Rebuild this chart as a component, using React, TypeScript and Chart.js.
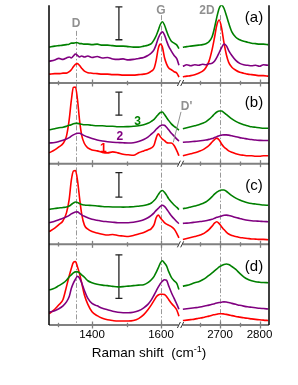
import React, { useEffect, useRef } from 'react';
import { Chart, registerables } from 'chart.js';

Chart.register(...registerables);

// ---------- data (Raman shift in cm^-1, intensity in arbitrary units per panel) ----------
const X_LEFT = [1276, 1292, 1304, 1316, 1326, 1334, 1340, 1346, 1352, 1358, 1364, 1370, 1378, 1388, 1400, 1415, 1430, 1445, 1460, 1475, 1490, 1505, 1520, 1535, 1550, 1562, 1572, 1580, 1586, 1592, 1598, 1604, 1610, 1616, 1622, 1630, 1638, 1646, 1652];
const X_RIGHT = [2606, 2616, 2626, 2636, 2646, 2656, 2664, 2672, 2680, 2686, 2692, 2698, 2704, 2710, 2716, 2722, 2730, 2740, 2750, 2760, 2770, 2780, 2790, 2800, 2810, 2822];

// panel (a)
const A_GREEN_L = [36.5, 37.5, 38, 38.5, 39, 39.5, 40.5, 40.5, 41, 41, 40, 40, 39.5, 39.5, 39, 39.5, 38.5, 38.5, 38, 37.5, 37.5, 37, 36.5, 36.5, 37.5, 38.5, 40, 44, 48, 53.5, 59.5, 62.3, 59, 53, 47.5, 42.5, 40.5, 38.5, 35];
const A_PURPLE_L = [22, 23.5, 25, 24, 25.5, 26.5, 25.5, 27.5, 29.5, 28, 26.5, 27.5, 26.5, 27.5, 26, 27, 25.5, 26, 24.5, 24, 24.5, 23.5, 24, 25, 26, 28, 30.5, 34, 39, 45.5, 50, 52, 49, 43, 37.5, 32.5, 28, 24.5, 18];
const A_RED_L = [9, 9.5, 9.5, 10, 10, 11.5, 13.5, 16.5, 19, 19.7, 17.8, 15, 12, 10.5, 10, 9.5, 9, 9, 8.5, 8.5, 8, 8, 8, 8.5, 9, 10, 12, 15, 23, 35, 39.5, 36.5, 26, 19.5, 15.5, 13.5, 11.5, 10, 6];
const A_GREEN_R = [36.3, 37, 37.5, 38, 38.5, 39, 40, 42, 47, 56, 67, 76, 79.5, 76, 69, 61, 52, 46.5, 44, 42.5, 41.5, 40.5, 40, 39.5, 39.5, 39];
const A_PURPLE_R = [17, 18.5, 17.5, 18.5, 18, 19, 18.5, 19.5, 20, 22, 26, 31, 36, 39.5, 38, 33, 28, 23, 20, 18.5, 18, 17.5, 18, 17, 18.5, 18];
const A_RED_R = [6.3, 7, 7.5, 8.5, 10, 12, 15.5, 22, 34, 46, 59, 64, 56, 41, 29, 21, 16, 13, 11, 10, 9, 8.5, 8, 7.5, 7.5, 7];

// panel (b)
const B_GREEN_L = [34.5, 35.5, 36.5, 37, 38, 39, 39.5, 40.5, 41, 41, 40.5, 40, 39.5, 39.5, 39, 38.5, 38.5, 38, 38, 37.5, 37.5, 37.7, 38, 38.5, 39.5, 41, 43, 45, 47.5, 50, 52, 52.5, 50, 47, 44, 40.5, 38, 36, 34];
const B_PURPLE_L = [21, 21.5, 22.5, 23.7, 25, 26.5, 28, 29.3, 30.3, 31, 31, 30, 28.5, 27, 25.5, 24, 23, 22.3, 21.8, 21.5, 21.2, 21, 21.3, 22.5, 24.5, 27, 30, 32.5, 35, 37, 38.5, 39.3, 39, 37, 34.5, 31, 28, 25, 23];
const B_RED_L = [11, 14, 17, 20.5, 28, 45, 64, 77.5, 78, 65, 44, 29, 20.5, 16, 14, 13, 11.5, 11, 12, 11, 9.5, 9, 8.5, 11, 13, 14.5, 16, 19, 26, 30.3, 27.5, 25, 23.5, 21.5, 21, 21, 18.5, 13, 8];
const B_GREEN_R = [35.5, 36.5, 37.5, 38.5, 39.5, 41, 42.5, 45, 48, 50.5, 52.5, 53.5, 53.5, 52, 50, 48, 45.5, 43, 41, 39.5, 38.5, 37.5, 37, 36.5, 36, 36];
const B_PURPLE_R = [21.7, 22, 22.3, 22.7, 23, 23.5, 24, 24.7, 25.5, 26.5, 27.5, 28.5, 29, 29.3, 29.3, 29, 28.3, 27.3, 26.5, 25.8, 25, 24.5, 24, 23.7, 23.5, 23.5];
const B_RED_R = [8, 9, 10, 11, 12.5, 14, 16, 18.5, 22, 24.5, 26, 24, 20, 17, 15, 13, 11.5, 10, 9, 8.5, 8, 8, 7.5, 7.5, 8, 8];

// panel (c)
const C_GREEN_L = [35.5, 36.5, 37, 37.5, 38, 39, 40.5, 42, 43, 42.5, 41.5, 40.5, 40, 39.7, 39.5, 39, 38.5, 38.2, 38, 38, 37.8, 38, 38.2, 38.8, 39.5, 40.5, 42, 44.5, 47, 50.5, 53.5, 54.7, 53, 50, 46.5, 43, 40, 37.5, 35.3];
const C_PURPLE_L = [22, 23.5, 25, 26.5, 28, 29.5, 31, 32, 32.8, 33, 31.5, 30, 28.5, 27, 25.5, 24.5, 23.5, 23, 22.5, 22, 22, 22, 22.5, 23.5, 25, 27, 29.5, 32, 34.5, 36.5, 38.5, 39.7, 38.5, 36, 33, 29, 26, 23, 21];
const C_RED_L = [13, 16.5, 20, 24, 32, 46, 65, 74.5, 75, 65, 47, 31, 19.5, 15.5, 13, 11.5, 10.3, 9.5, 10, 9, 8.5, 8, 9, 10.5, 12, 14, 16, 20, 27, 29.7, 27, 24.5, 22, 20.5, 19.5, 18, 15.5, 11, 6.5];
const C_GREEN_R = [36.3, 37, 38, 39, 40, 41.5, 43, 45.5, 48.5, 51, 53, 54.5, 55.3, 55.3, 54, 52, 49.5, 47, 45, 43.5, 42.3, 41.5, 41, 40.5, 40, 39.7];
const C_PURPLE_R = [21.3, 21.6, 22, 22.5, 23, 23.5, 24, 24.7, 25.5, 26.5, 27.5, 28, 28.8, 29.5, 29.7, 29.3, 28.5, 27.3, 26.3, 25.3, 24.5, 24, 23.7, 23.5, 23.2, 23];
const C_RED_R = [5, 6, 7, 8, 9, 10.5, 12.5, 15, 18.5, 21.5, 23, 21, 18, 15, 12.5, 10.5, 9, 8, 7, 6.5, 6, 5.5, 5.3, 5, 5, 4.7];

// panel (d)
const D_GREEN_L = [35.5, 37.5, 40, 42.5, 45.5, 49, 51, 53, 54, 54, 53, 51, 48.5, 45, 43, 41.5, 40.5, 40, 39.3, 38.8, 39, 39.5, 40, 40.5, 41, 43, 46, 49.5, 53.5, 58, 63, 65.3, 63, 60, 54.5, 48.5, 45, 42, 36];
const D_PURPLE_L = [13, 14.5, 16.5, 19.5, 23.5, 29, 37, 42.5, 46.5, 49.5, 47.5, 43, 35, 27, 22, 19.5, 17, 15.5, 14, 13, 12.5, 12.5, 13, 14.5, 17.5, 21, 25.5, 30.5, 34.5, 38.5, 42, 44.5, 46, 45.5, 40, 33, 27, 21, 16];
const D_RED_L = [11.5, 16, 20.5, 26, 39, 50, 57.5, 63.5, 64.5, 59, 52, 43, 30.5, 21, 13.5, 9.5, 6.8, 5.3, 4.5, 4, 4, 4, 4.5, 6.5, 10.5, 15.5, 20.5, 25, 28.5, 30.5, 31.3, 31.3, 31, 29, 26, 22, 19, 15, 9];
const D_GREEN_R = [39.5, 40.3, 41.5, 43, 44, 46, 48, 50.5, 53, 55, 57, 59, 60.5, 61.5, 62, 61.5, 59.5, 56.5, 52.5, 49, 46.5, 45, 44, 43.5, 43.2, 43];
const D_PURPLE_R = [16, 16.5, 17, 17.5, 18, 18.8, 19.5, 20.2, 21, 21.7, 22.3, 22.8, 23.2, 23.5, 23.3, 22.8, 22, 21, 20, 19.2, 18.5, 18, 17.5, 17, 16.7, 16.3];
const D_RED_R = [4.5, 5, 5.5, 6, 6.8, 7.5, 8.3, 9, 10, 10.5, 11, 11.5, 11.5, 11.2, 10.8, 10.3, 9.5, 8.7, 8, 7.3, 6.8, 6.2, 5.7, 5.3, 5, 4.5];

// intensity scale bars (low, high) per panel
const SCALE_BAR_CM = 1478;
const SCALE_BARS = [[44, 77.3], [49.3, 72.7], [48, 73], [27, 71.3]];

// axis ticks
const TICKS_CM = [1300, 1400, 1500, 1600, 2650, 2700, 2750, 2800];
const TICK_LABELS = ['', '1400', '', '1600', '', '2700', '', '2800'];
const TICK_MAJOR = [false, true, false, true, false, true, false, true];

// band positions (dash-dot lines)
const BANDS = [
  { name: 'D', cm: 1354 },
  { name: 'G', cm: 1600 },
  { name: '2D', cm: 2701 },
];

const PANEL_LABELS = ['(a)', '(b)', '(c)', '(d)'];

// ---------- broken-axis transform ----------
const BREAK_LEFT_END = 1651;
const BREAK_RIGHT_START = 2605;
function toAxis(cm: number): number {
  return cm < 2000 ? 8.5 + (cm - 1300) * 0.345 : 171 + (cm - 2700) * 0.395;
}

const GREEN = '#008000';
const PURPLE = '#800080';
const RED = '#ff0000';
const AXIS_GRAY = '#808080';
const REF_GRAY = '#999999';
const LABEL_GRAY = '#909090';
const FONT = '"Liberation Sans", Arial, sans-serif';

const PANELS = [
  { id: 'ya', h: 79, weight: 4, series: [[A_GREEN_L, A_GREEN_R], [A_PURPLE_L, A_PURPLE_R], [A_RED_L, A_RED_R]], labelV: 66 },
  { id: 'yb', h: 82, weight: 3, series: [[B_GREEN_L, B_GREEN_R], [B_PURPLE_L, B_PURPLE_R], [B_RED_L, B_RED_R]], labelV: 62 },
  { id: 'yc', h: 82, weight: 2, series: [[C_GREEN_L, C_GREEN_R], [C_PURPLE_L, C_PURPLE_R], [C_RED_L, C_RED_R]], labelV: 59.6 },
  { id: 'yd', h: 82, weight: 1, series: [[D_GREEN_L, D_GREEN_R], [D_PURPLE_L, D_PURPLE_R], [D_RED_L, D_RED_R]], labelV: 59.6 },
];
const SERIES_COLORS = [GREEN, PURPLE, RED];

function text(ctx: CanvasRenderingContext2D, s: string, x: number, y: number, font: string, color: string, align: CanvasTextAlign = 'center') {
  ctx.font = font;
  ctx.fillStyle = color;
  ctx.textAlign = align;
  ctx.textBaseline = 'middle';
  ctx.fillText(s, x, y);
}

const overlayPlugin = {
  id: 'ramanOverlay',
  beforeDatasetsDraw(chart: any) {
    const { ctx, chartArea, scales } = chart;
    const xs = scales.x;
    const ya = scales.ya;
    const starts: Record<string, number> = { D: 53, G: 69, '2D': 69 };
    ctx.save();
    ctx.strokeStyle = REF_GRAY;
    ctx.lineWidth = 1;
    ctx.setLineDash([5, 2, 1.5, 2]);
    for (const b of BANDS) {
      const px = Math.round(xs.getPixelForValue(toAxis(b.cm))) + 0.5;
      ctx.beginPath();
      ctx.moveTo(px, ya.getPixelForValue(starts[b.name]));
      ctx.lineTo(px, chartArea.bottom);
      ctx.stroke();
    }
    ctx.restore();
  },
  afterDatasetsDraw(chart: any) {
    const { ctx, chartArea, scales } = chart;
    const xs = scales.x;
    const px = (cm: number) => xs.getPixelForValue(toAxis(cm));
    const xl = chartArea.left;
    const xr = chartArea.right;
    const bl = px(BREAK_LEFT_END);
    const br = px(BREAK_RIGHT_START);
    ctx.save();
    // panel bottom axes with ticks and break marks
    PANELS.forEach((p) => {
      const s = scales[p.id];
      const y = s.bottom;
      ctx.strokeStyle = AXIS_GRAY;
      ctx.lineWidth = 2;
      ctx.setLineDash([]);
      ctx.beginPath();
      ctx.moveTo(xl, y);
      ctx.lineTo(bl, y);
      ctx.moveTo(br, y);
      ctx.lineTo(xr, y);
      ctx.stroke();
      ctx.lineWidth = 1.3;
      TICKS_CM.forEach((c, i) => {
        const tx = Math.round(px(c)) + 0.5;
        const len = TICK_MAJOR[i] ? 3.5 : 2.2;
        ctx.beginPath();
        ctx.moveTo(tx, y - len);
        ctx.lineTo(tx, y + len);
        ctx.stroke();
      });
      ctx.strokeStyle = '#333';
      ctx.lineWidth = 1;
      ctx.beginPath();
      ctx.moveTo(bl - 1.2, y + 3);
      ctx.lineTo(bl + 1.8, y - 3);
      ctx.moveTo(br - 1.8, y + 3);
      ctx.lineTo(br + 1.2, y - 3);
      ctx.stroke();
    });
    // frame sides
    ctx.strokeStyle = '#000';
    ctx.lineWidth = 1.5;
    ctx.beginPath();
    ctx.moveTo(xl, chartArea.top);
    ctx.lineTo(xl, chartArea.bottom);
    ctx.moveTo(xr, chartArea.top);
    ctx.lineTo(xr, chartArea.bottom);
    ctx.stroke();

    // band labels
    const ya = scales.ya;
    text(ctx, 'D', px(1354), ya.getPixelForValue(60.5), `bold 12px ${FONT}`, LABEL_GRAY);
    text(ctx, 'G', px(1600), ya.getPixelForValue(74), `bold 12px ${FONT}`, LABEL_GRAY);
    text(ctx, '2D', px(2667), ya.getPixelForValue(74), `bold 12px ${FONT}`, LABEL_GRAY);

    // panel letters
    PANELS.forEach((p, i) => {
      text(ctx, PANEL_LABELS[i], px(2786), scales[p.id].getPixelForValue(p.labelV), `15px ${FONT}`, '#000');
    });

    // curve numbers in panel (b)
    const yb = scales.yb;
    text(ctx, '3', px(1532), yb.getPixelForValue(42.7), `bold 12px ${FONT}`, GREEN);
    text(ctx, '2', px(1481), yb.getPixelForValue(27.7), `bold 12px ${FONT}`, PURPLE);
    text(ctx, '1', px(1433), yb.getPixelForValue(15), `bold 12px ${FONT}`, RED);

    // D' annotation
    ctx.strokeStyle = LABEL_GRAY;
    ctx.lineWidth = 1;
    ctx.beginPath();
    ctx.moveTo(px(1658), yb.getPixelForValue(52.7));
    ctx.lineTo(px(1635.6), yb.getPixelForValue(21.7));
    ctx.stroke();
    text(ctx, "D'", px(1674), yb.getPixelForValue(58.3), `bold 12px ${FONT}`, LABEL_GRAY);

    // axis title with superscript
    const cx = chartArea.left + 100;
    const base = chartArea.bottom + 32;
    const mainFont = `13.5px ${FONT}`;
    const supFont = `9px ${FONT}`;
    const s1 = 'Raman shift  (cm';
    const s2 = '-1';
    const s3 = ')';
    ctx.font = mainFont;
    const w1 = ctx.measureText(s1).width;
    const w3 = ctx.measureText(s3).width;
    ctx.font = supFont;
    const w2 = ctx.measureText(s2).width;
    let x0 = cx - (w1 + w2 + w3) / 2;
    ctx.fillStyle = '#000';
    ctx.textAlign = 'left';
    ctx.textBaseline = 'alphabetic';
    ctx.font = mainFont;
    ctx.fillText(s1, x0, base);
    ctx.font = supFont;
    ctx.fillText(s2, x0 + w1, base - 5.5);
    ctx.font = mainFont;
    ctx.fillText(s3, x0 + w1 + w2, base);
    ctx.restore();
  },
};

export default function App() {
  const canvasRef = useRef<HTMLCanvasElement | null>(null);

  useEffect(() => {
    const canvas = canvasRef.current;
    if (!canvas) return;

    const datasets: any[] = [];
    PANELS.forEach((p) => {
      p.series.forEach((pair, si) => {
        const [left, right] = pair;
        datasets.push({
          data: X_LEFT.map((c, i) => ({ x: toAxis(c), y: left[i] })),
          yAxisID: p.id, xAxisID: 'x',
          borderColor: SERIES_COLORS[si], borderWidth: 1.6,
          pointRadius: 0, cubicInterpolationMode: 'monotone', fill: false,
        });
        datasets.push({
          data: X_RIGHT.map((c, i) => ({ x: toAxis(c), y: right[i] })),
          yAxisID: p.id, xAxisID: 'x',
          borderColor: SERIES_COLORS[si], borderWidth: 1.6,
          pointRadius: 0, cubicInterpolationMode: 'monotone', fill: false,
        });
      });
    });
    PANELS.forEach((p, i) => {
      const [lo, hi] = SCALE_BARS[i];
      datasets.push({
        data: [{ x: toAxis(SCALE_BAR_CM), y: lo }, { x: toAxis(SCALE_BAR_CM), y: hi }],
        yAxisID: p.id, xAxisID: 'x',
        borderColor: '#222', borderWidth: 1.3,
        pointStyle: 'line', pointRadius: 3.5, pointBorderWidth: 1.3, pointBorderColor: '#222',
        fill: false,
      });
    });

    const yScales: any = {};
    PANELS.forEach((p) => {
      yScales[p.id] = {
        type: 'linear', position: 'left', stack: 'panels', stackWeight: p.h, weight: p.weight,
        min: 0, max: p.h, display: true,
        grid: { display: false }, border: { display: false }, ticks: { display: false },
        afterFit: (s: any) => { s.width = 0; },
      };
    });

    const chart = new Chart(canvas, {
      type: 'line',
      data: { datasets },
      options: {
        responsive: false,
        devicePixelRatio: 1,
        animation: false,
        events: [],
        layout: { padding: { left: 49, right: 29, top: 0, bottom: 0 } },
        plugins: { legend: { display: false }, tooltip: { enabled: false } },
        scales: {
          x: {
            type: 'linear', position: 'bottom', min: 0, max: 220,
            grid: { display: false, drawTicks: false }, border: { display: false },
            afterBuildTicks: (s: any) => { s.ticks = TICKS_CM.map((c) => ({ value: toAxis(c) })); },
            afterFit: (s: any) => { s.height = 60; },
            ticks: {
              autoSkip: false, maxRotation: 0, padding: 3, color: '#000',
              font: { family: '"Liberation Sans", Arial, sans-serif', size: 11.5 },
              callback: (_v: any, i: number) => TICK_LABELS[i],
            },
          },
          ...yScales,
        },
      } as any,
      plugins: [overlayPlugin],
    });
    return () => chart.destroy();
  }, []);

  return (
    <div style={{ position: 'absolute', left: 0, top: 0, width: 298, height: 385, background: '#fff' }}>
      <canvas ref={canvasRef} width={298} height={385} style={{ display: 'block' }} />
    </div>
  );
}
